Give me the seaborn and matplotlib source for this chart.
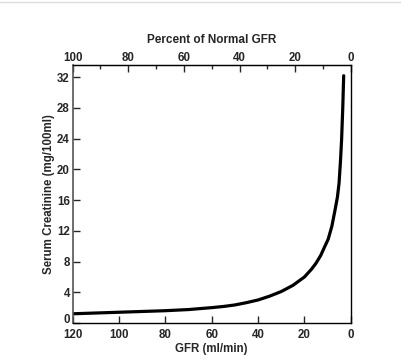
import numpy as np
import matplotlib
matplotlib.use("Agg")
import matplotlib.pyplot as plt
import matplotlib.transforms as mtransforms
from matplotlib.ticker import MultipleLocator
from matplotlib.lines import Line2D
import seaborn as sns
import pandas as pd

# values
gfr = [120, 110, 100, 90, 80, 70, 60, 55, 50, 45, 40, 35, 30, 25, 20, 17, 15, 13, 11.5, 9.8, 8.2, 6.9, 5.8, 5.1, 4.5, 4.0, 3.5, 3.1]
creat = [1.2, 1.3, 1.4, 1.5, 1.6, 1.75, 2.0, 2.15, 2.35, 2.65, 3.0, 3.5, 4.1, 4.9, 6.0, 7.0, 7.8, 8.8, 9.8, 10.9, 12.6, 14.6, 16.4, 18.2, 21.0, 23.9, 28.0, 32.2]

x_ticks = [120, 100, 80, 60, 40, 20, 0]
pct_ticks = [100, 80, 60, 40, 20, 0]
y_ticks = [0, 4, 8, 12, 16, 20, 24, 28, 32]

sns.set_style("ticks")
plt.rcParams['font.family'] = ['Liberation Sans', 'DejaVu Sans']
plt.rcParams['font.weight'] = 'bold'

df = pd.DataFrame({"GFR": gfr, "Creatinine": creat})

fig = plt.figure(figsize=(4.01, 3.59), dpi=100)
ax = fig.add_axes([0.181, 0.1003, 0.694, 0.7187])

sns.lineplot(data=df, x="GFR", y="Creatinine", color="black", linewidth=2.3, ax=ax)

ax.set_xlim(120, 0)
ax.set_ylim(0, 33.6)
ax.set_xticks(x_ticks)
ax.set_yticks(y_ticks)
ax.tick_params(axis='x', direction='in', length=5, width=1, labelsize=8.3, pad=4)
ax.tick_params(axis='y', direction='in', length=5, width=1, labelsize=8.3, pad=2)
for lab in ax.get_xticklabels() + ax.get_yticklabels():
    lab.set_fontweight('bold')
# lift the "0" a little so it sits above "120" like the original
zero_lab = ax.get_yticklabels()[0]
zero_lab.set_transform(zero_lab.get_transform() + mtransforms.ScaledTranslation(0, 3 / 72, fig.dpi_scale_trans))
ax.set_xlabel("GFR (ml/min)", fontsize=8.3, fontweight='bold', labelpad=2)
ax.set_ylabel("Serum Creatinine (mg/100ml)", fontsize=8.3, fontweight='bold', labelpad=1)

for side in ['top', 'right', 'bottom']:
    ax.spines[side].set_color('black')
    ax.spines[side].set_linewidth(1)
ax.spines['left'].set_color('#555555')
ax.spines['left'].set_linewidth(1.2)

sec = ax.secondary_xaxis('top', functions=(lambda g: g / 120 * 100, lambda p: p * 120 / 100))
sec.set_xticks(pct_ticks)
sec.xaxis.set_minor_locator(MultipleLocator(10))
sec.tick_params(axis='x', which='major', direction='in', length=5, width=1, labelsize=8.3, pad=1)
sec.tick_params(axis='x', which='minor', direction='in', length=3, width=1)
for lab in sec.get_xticklabels():
    lab.set_fontweight('bold')
sec.set_xlabel("Percent of Normal GFR", fontsize=8.5, fontweight='bold', labelpad=6)

fig.add_artist(Line2D([0, 1], [0.994, 0.994], color='#dddddd', linewidth=1))

fig.savefig("out.png", dpi=100)
